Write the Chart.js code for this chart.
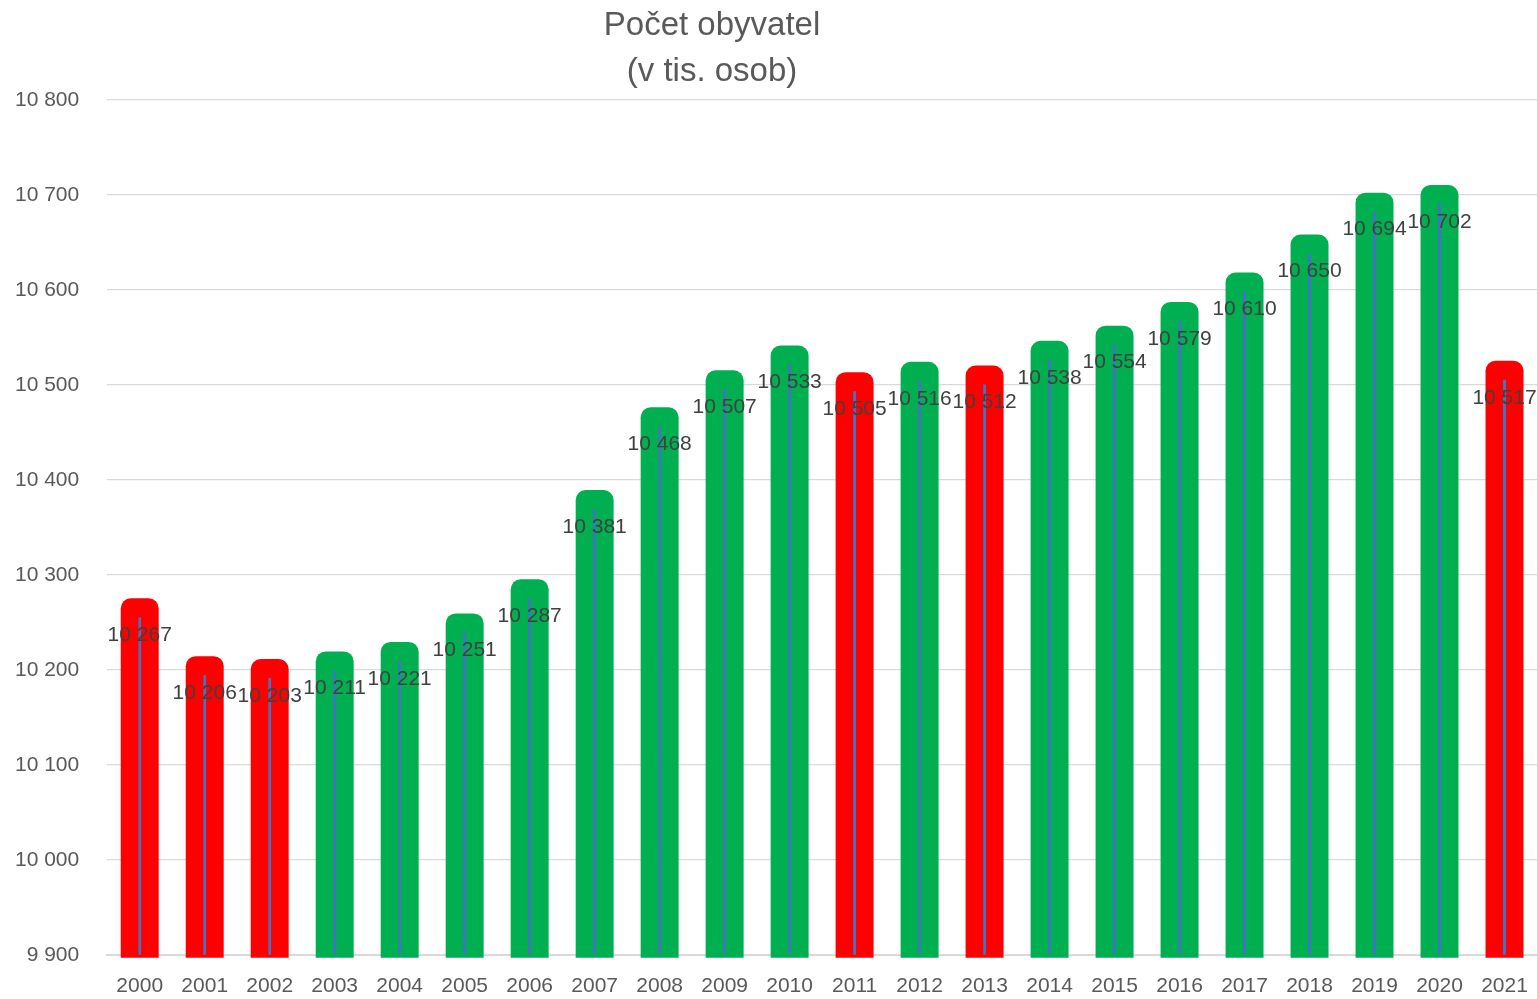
<!DOCTYPE html>
<html>
<head>
<meta charset="utf-8">
<script src="https://cdn.jsdelivr.net/npm/chart.js@4/dist/chart.umd.min.js"></script>
<style>
  body { margin: 0; background: #fff; overflow: hidden; }
  #wrap { position: relative; width: 1537px; height: 999px; }
  #popChart { display: block; }
  #title {
    position: absolute; left: 0; top: 1px; width: 1424px;
    text-align: center; font-family: "Liberation Sans", sans-serif;
    font-size: 33px; line-height: 46px; color: #595959;
  }
</style>
</head>
<body>
<div id="wrap">
  <canvas id="popChart" width="1537" height="999"></canvas>
  <div id="title">Počet obyvatel<br>(v tis. osob)</div>
</div>
<script>
const years = ['2000', '2001', '2002', '2003', '2004', '2005', '2006', '2007', '2008', '2009', '2010',
  '2011', '2012', '2013', '2014', '2015', '2016', '2017', '2018', '2019', '2020', '2021'];
const population = [10267, 10206, 10203, 10211, 10221, 10251, 10287, 10381, 10468, 10507, 10533,
  10505, 10516, 10512, 10538, 10554, 10579, 10610, 10650, 10694, 10702, 10517];
// true = pokles oproti predchozimu roku (cervene)
const isDrop = [true, true, true, false, false, false, false, false, false, false, false,
  true, false, true, false, false, false, false, false, false, false, true];
const yMin = 9900;
const yMax = 10800;
const yStep = 100;

// cislo s mezerou jako oddelovacem tisicu
function fmt(v) {
    return String(v).replace(/\B(?=(\d{3})+(?!\d))/g, ' ');
}

// popisky hodnot pod vrcholem sloupce
const valueLabels = {
    id: 'valueLabels',
    afterDatasetsDraw(chart) {
        const ctx = chart.ctx;
        const meta = chart.getDatasetMeta(0);
        ctx.save();
        ctx.font = '21px "Liberation Sans", sans-serif';
        ctx.fillStyle = '#404040';
        ctx.textAlign = 'center';
        ctx.textBaseline = 'middle';
        meta.data.forEach((bar, i) => {
            ctx.fillText(fmt(population[i]), bar.x, bar.y + 29);
        });
        ctx.restore();
    }
};

const ctx = document.getElementById('popChart').getContext('2d');
new Chart(ctx, {
    type: 'bar',
    data: {
        labels: years,
        datasets: [{
            data: population,
            backgroundColor: isDrop.map(d => d ? '#FF0000' : '#00B050'),
            borderWidth: 0,
            borderRadius: { topLeft: 10, topRight: 10, bottomLeft: 0, bottomRight: 0 },
            inflateAmount: 8,
            grouped: false,
            categoryPercentage: 1,
            barPercentage: 0.338,
            clip: { left: false, top: false, right: false, bottom: 3 },
            order: 2
        }, {
            data: population,
            backgroundColor: '#4472C4',
            borderColor: 'rgba(0,0,0,0)',
            borderWidth: { top: 11, bottom: 8, left: 0, right: 0 },
            borderSkipped: false,
            inflateAmount: 0,
            grouped: false,
            categoryPercentage: 1,
            barPercentage: 0.046,
            order: 1
        }]
    },
    options: {
        responsive: false,
        animation: false,
        layout: { padding: { top: 100, left: 15, right: 0, bottom: 0 } },
        plugins: {
            legend: { display: false },
            tooltip: { enabled: false },
            title: { display: false }
        },
        scales: {
            x: {
                z: 1,
                grid: { display: false, drawTicks: true, tickLength: 19 },
                border: { color: '#d9d9d9', width: 2 },
                ticks: {
                    color: '#595959',
                    padding: 0,
                    font: { family: '"Liberation Sans", sans-serif', size: 21 }
                }
            },
            y: {
                min: yMin,
                max: yMax,
                grid: { color: '#d9d9d9', lineWidth: 1.3, drawTicks: true, tickLength: 28, tickColor: 'rgba(0,0,0,0)' },
                border: { display: false },
                ticks: {
                    stepSize: yStep,
                    color: '#595959',
                    padding: 0,
                    font: { family: '"Liberation Sans", sans-serif', size: 21 },
                    callback: v => fmt(v)
                }
            }
        }
    },
    plugins: [valueLabels]
});
</script>
</body>
</html>
